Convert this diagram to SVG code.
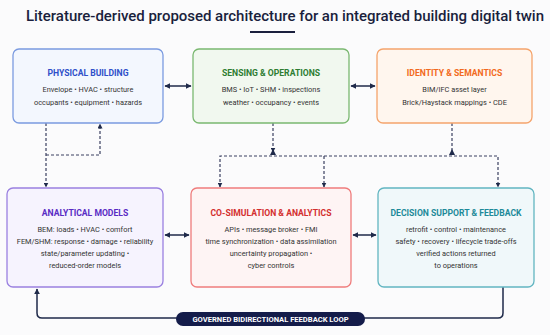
<svg xmlns="http://www.w3.org/2000/svg" width="550" height="335" viewBox="0 0 550 335">
<defs>
<marker id="ah" viewBox="0 0 10 10" refX="9" refY="5" markerWidth="6" markerHeight="6" orient="auto-start-reverse" markerUnits="userSpaceOnUse">
<path d="M0,0 L10,5 L0,10 z" fill="#1f2a4a"/>
</marker>
<marker id="ahs" viewBox="0 0 10 10" refX="9" refY="5" markerWidth="5" markerHeight="5" orient="auto-start-reverse" markerUnits="userSpaceOnUse">
<path d="M0,0 L10,5 L0,10 z" fill="#1f2a4a"/>
</marker>
</defs>
<style>
.t{font-family:Roboto,"Liberation Sans",sans-serif;font-weight:700;font-size:8.6px;text-anchor:middle}
.b{font-family:Roboto,"Liberation Sans",sans-serif;font-size:7.4px;fill:#333;text-anchor:middle}
.box{stroke-width:1.3}
.sol{fill:none;stroke:#1f2a4a;stroke-width:1.5}
.dash{fill:none;stroke:#3a4060;stroke-width:1.2;stroke-dasharray:3 2}
</style>
<rect width="550" height="335" fill="#fbfbfc"/>
<text x="26" y="21" textLength="518" style="font-family:Roboto,'Liberation Sans',sans-serif;font-weight:500;font-size:15px;fill:#1a1f3d">Literature-derived proposed architecture for an integrated building digital twin</text>
<rect x="250" y="31" width="45" height="2" fill="#1a1f3d"/>

<g id="connectors">
<line class="sol" x1="165" y1="86" x2="191" y2="86" marker-start="url(#ah)" marker-end="url(#ah)"/>
<line class="sol" x1="351" y1="86" x2="375" y2="86" marker-start="url(#ah)" marker-end="url(#ah)"/>
<line class="sol" x1="165" y1="235" x2="189" y2="235" marker-start="url(#ah)" marker-end="url(#ah)"/>
<line class="sol" x1="353" y1="235" x2="376" y2="235" marker-start="url(#ah)" marker-end="url(#ah)"/>
<path class="dash" d="M46,123 V187" marker-end="url(#ahs)"/>
<path class="dash" d="M46,155 H100 V124" marker-end="url(#ahs)"/>
<path class="dash" d="M273,123 V152" marker-end="url(#ahs)" transform=""/>
<path class="dash" d="M452,123 V152"/>
<path class="dash" d="M220,187 V156 H498 V187" marker-start="url(#ahs)" marker-end="url(#ahs)"/>
<path class="dash" d="M324,156 V187" marker-end="url(#ahs)"/>
<path d="M270,155 L273,149 L276,155 z" fill="#1f2a4a"/>
<path d="M449,155 L452,149 L455,155 z" fill="#1f2a4a"/>
<path class="sol" d="M503,287 V313 Q503,318 498,318 H42 Q37,318 37,313 V289" marker-end="url(#ah)"/>
<rect x="176" y="312" width="189" height="14" rx="7" fill="#141c4a"/>
<text x="270.5" y="322" style="font-family:Roboto,'Liberation Sans',sans-serif;font-weight:700;font-size:7.6px;fill:#fff;text-anchor:middle">GOVERNED BIDIRECTIONAL FEEDBACK LOOP</text>
</g>

<g id="physical">
<rect class="box" x="13" y="49" width="150" height="74" rx="6" fill="#f3f7fe" stroke="#7b9be0"/>
<text class="t" x="88" y="76" fill="#2f4fc9">PHYSICAL BUILDING</text>
<text class="b" x="88" y="92">Envelope • HVAC • structure</text>
<text class="b" x="88" y="105">occupants • equipment • hazards</text>
</g>
<g id="sensing">
<rect class="box" x="193" y="49" width="156" height="74" rx="6" fill="#f1f8ef" stroke="#7ab870"/>
<text class="t" x="271" y="76" fill="#2e7d32">SENSING &amp; OPERATIONS</text>
<text class="b" x="271" y="92">BMS • IoT • SHM • inspections</text>
<text class="b" x="271" y="105">weather • occupancy • events</text>
</g>
<g id="identity">
<rect class="box" x="377" y="49" width="155" height="74" rx="6" fill="#fff6ee" stroke="#f5a46c"/>
<text class="t" x="454.5" y="76" fill="#f26a21">IDENTITY &amp; SEMANTICS</text>
<text class="b" x="454.5" y="92">BIM/IFC asset layer</text>
<text class="b" x="454.5" y="105">Brick/Haystack mappings • CDE</text>
</g>
<g id="analytical">
<rect class="box" x="7" y="188" width="156" height="99" rx="6" fill="#f6f3fe" stroke="#9a80e0"/>
<text class="t" x="85" y="216" fill="#5a2bc4">ANALYTICAL MODELS</text>
<text class="b" x="85" y="232">BEM: loads • HVAC • comfort</text>
<text class="b" x="85" y="244">FEM/SHM: response • damage • reliability</text>
<text class="b" x="85" y="256">state/parameter updating •</text>
<text class="b" x="85" y="268">reduced-order models</text>
</g>
<g id="cosim">
<rect class="box" x="191" y="188" width="160" height="99" rx="6" fill="#fef4f4" stroke="#ef7c7c"/>
<text class="t" x="271" y="216" fill="#d32f2f">CO-SIMULATION &amp; ANALYTICS</text>
<text class="b" x="271" y="232">APIs • message broker • FMI</text>
<text class="b" x="271" y="244">time synchronization • data assimilation</text>
<text class="b" x="271" y="256">uncertainty propagation •</text>
<text class="b" x="271" y="268">cyber controls</text>
</g>
<g id="decision">
<rect class="box" x="378" y="188" width="156" height="99" rx="6" fill="#f0f8fa" stroke="#62b5c1"/>
<text class="t" x="456" y="216" fill="#1e8a99">DECISION SUPPORT &amp; FEEDBACK</text>
<text class="b" x="456" y="232">retrofit • control • maintenance</text>
<text class="b" x="456" y="244">safety • recovery • lifecycle trade-offs</text>
<text class="b" x="456" y="256">verified actions returned</text>
<text class="b" x="456" y="268">to operations</text>
</g>
</svg>
